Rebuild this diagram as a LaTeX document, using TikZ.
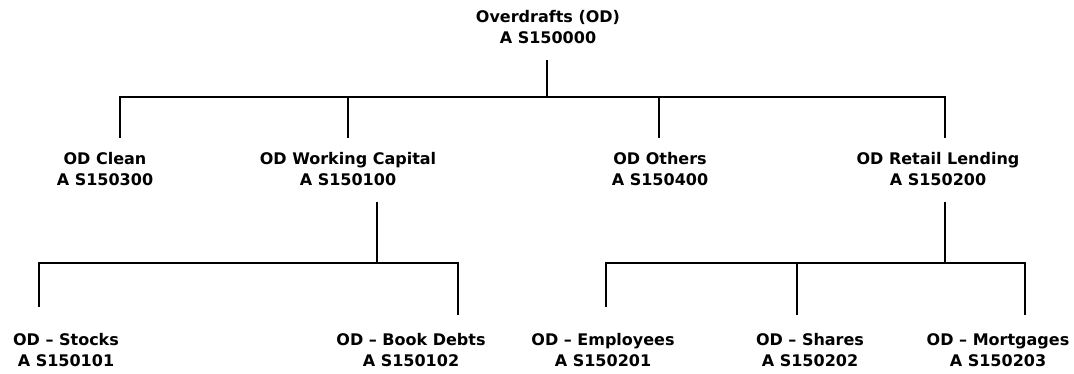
\documentclass[tikz,border=0pt]{standalone}
\usepackage{fontspec}
\setmainfont{DejaVu Sans}
\begin{document}
\begin{tikzpicture}[x=0.75pt,y=-0.75pt,line width=1.1pt,
  unit/.style={font=\bfseries\fontsize{12}{15.75}\selectfont,align=center,inner sep=0pt},
  up/.style={shorten <=#1}]
 \useasboundingbox (0,0) rectangle (1074,374);
 % top of the tree
 \node[unit] (od) at (548,27) {Overdrafts (OD)\\A S150000};
 % second level
 \node[unit] (clean) at (105,169) {OD Clean\\A S150300};
 \node[unit] (wc) at (348,169) {OD Working Capital\\A S150100};
 \node[unit] (others) at (660,169) {OD Others\\A S150400};
 \node[unit] (retail) at (938,169) {OD Retail Lending\\A S150200};
 % third level
 \node[unit] (stocks) at (66,350) {OD -- Stocks\\A S150101};
 \node[unit] (debts) at (411,350) {OD -- Book Debts\\A S150102};
 \node[unit] (emp) at (603,350) {OD -- Employees\\A S150201};
 \node[unit] (shares) at (810,350) {OD -- Shares\\A S150202};
 \node[unit] (mort) at (998,350) {OD -- Mortgages\\A S150203};
 % bars and drops
 \coordinate (od-bar) at (547,97);
 \coordinate (clean-in) at (120,138); \coordinate (wc-in) at (348,138);
 \coordinate (others-in) at (659,138); \coordinate (retail-in) at (945,138);
 \draw[up=12pt] (od-bar |- od.south) -- (od-bar);
 \draw (clean-in) |- (od-bar) -| (retail-in);
 \draw (wc-in) -- (wc-in |- od-bar); \draw (others-in) -- (others-in |- od-bar);
 \coordinate (wc-bar) at (377,263); \coordinate (retail-bar) at (945,263);
 \coordinate (stocks-in) at (39,307); \coordinate (debts-in) at (458,315);
 \coordinate (emp-in) at (606,307); \coordinate (shares-in) at (797,315);
 \coordinate (mort-in) at (1025,315);
 \draw[up=12pt] (wc-bar |- wc.south) -- (wc-bar);
 \draw (stocks-in) |- (wc-bar) -| (debts-in);
 \draw[up=12pt] (retail-bar |- retail.south) -- (retail-bar);
 \draw (emp-in) |- (retail-bar) -| (mort-in);
 \draw (shares-in) -- (shares-in |- retail-bar);
\end{tikzpicture}
\end{document}
